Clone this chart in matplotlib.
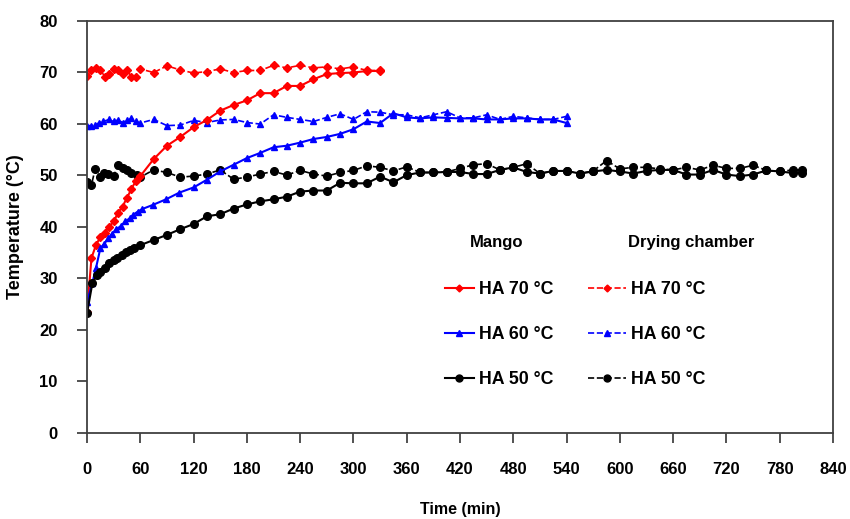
import matplotlib
matplotlib.use("Agg")
import matplotlib.pyplot as plt
from matplotlib.lines import Line2D

plt.rcParams['font.family'] = ['Liberation Sans', 'DejaVu Sans']
plt.rcParams['font.weight'] = 'bold'

# Mango HA 70 (solid) and drying chamber HA 70 (dashed)
t_m70 = [0, 5, 10, 15, 20, 25, 30, 35, 40, 45, 50, 55, 60, 75, 90, 105, 120, 135, 150,
         165, 180, 195, 210, 225, 240, 255, 270, 285, 300, 315, 330]
m70 = [23.5, 33.9, 36.4, 38.0, 38.8, 40.0, 41.0, 42.7, 43.9, 45.6, 47.3, 48.9, 49.8,
       53.1, 55.7, 57.4, 59.3, 60.7, 62.5, 63.6, 64.5, 65.9, 65.9, 67.3, 67.3, 68.6,
       69.6, 69.8, 69.9, 70.2, 70.2]
t_c70 = [0, 5, 10, 15, 20, 25, 30, 35, 40, 45, 50, 55, 60, 75, 90, 105, 120, 135, 150,
         165, 180, 195, 210, 225, 240, 255, 270, 285, 300, 315, 330]
c70 = [69.3, 70.4, 70.7, 70.4, 69.1, 69.6, 70.6, 70.3, 69.6, 70.3, 69.1, 69.1, 70.6,
       69.9, 71.2, 70.4, 69.8, 70.1, 70.6, 69.9, 70.3, 70.3, 71.3, 70.8, 71.3, 70.8,
       71.0, 70.6, 71.0, 70.3, 70.3]

# HA 60
t_m60 = [0, 6, 10, 15, 19, 24, 28, 33, 38, 43, 48, 52, 57, 62, 74, 89, 104, 120, 135,
         150, 165, 180, 195, 210, 225, 240, 255, 270, 285, 300, 315, 330, 345, 360, 375,
         390, 405, 420, 435, 450, 465, 480, 495, 510, 525, 540]
m60 = [25.4, 29.1, 31.9, 35.8, 36.6, 37.7, 38.6, 39.5, 40.1, 41.0, 41.6, 42.3, 42.9,
       43.4, 44.2, 45.3, 46.6, 47.6, 49.1, 50.7, 52.0, 53.3, 54.3, 55.4, 55.7, 56.3,
       57.0, 57.4, 58.0, 58.9, 60.4, 60.1, 62.0, 61.2, 61.0, 61.2, 61.1, 61.0, 61.0,
       60.8, 60.8, 61.0, 61.0, 60.8, 60.8, 60.1]
t_c60 = [0, 5, 9, 13, 18, 25, 30, 35, 40, 45, 50, 55, 60, 75, 90, 105, 120, 135, 150,
         165, 180, 195, 210, 225, 240, 255, 270, 285, 300, 315, 330, 345, 360, 375, 390,
         405, 420, 435, 450, 465, 480, 495, 510, 525, 540]
c60 = [59.6, 59.6, 59.7, 60.1, 60.4, 60.8, 60.4, 60.7, 60.2, 60.6, 61.0, 60.4, 60.1,
       60.8, 59.6, 59.7, 60.6, 60.2, 60.7, 60.8, 60.2, 59.9, 61.7, 61.2, 60.8, 60.4,
       61.2, 61.9, 60.8, 62.3, 62.2, 61.7, 61.7, 61.1, 61.7, 62.3, 61.1, 61.1, 61.7,
       60.8, 61.4, 61.1, 60.8, 60.8, 61.4]

# HA 50
t_m50 = [0, 6, 11, 15, 20, 25, 30, 34, 39, 44, 48, 53, 60, 75, 90, 105, 120, 135, 150,
         165, 180, 195, 210, 225, 240, 255, 270, 285, 300, 315, 330, 345, 360, 375, 390,
         405, 420, 435, 450, 465, 480, 495, 510, 525, 540, 555, 570, 585, 600, 615, 630,
         645, 660, 675, 690, 705, 720, 735, 750, 765, 780, 795, 805]
m50 = [23.2, 29.0, 30.6, 31.1, 31.9, 32.9, 33.5, 33.9, 34.5, 35.0, 35.5, 35.8, 36.4,
       37.4, 38.4, 39.5, 40.5, 42.0, 42.4, 43.5, 44.3, 44.9, 45.3, 45.8, 46.8, 47.0,
       47.0, 48.5, 48.4, 48.4, 49.7, 48.6, 50.0, 50.5, 50.5, 50.6, 50.6, 50.2, 50.2,
       51.0, 51.5, 50.6, 50.3, 50.8, 50.8, 50.3, 50.7, 51.0, 50.7, 50.3, 50.8, 51.0,
       51.0, 50.1, 50.1, 51.0, 50.1, 49.8, 50.1, 50.9, 50.7, 50.4, 50.4]
t_c50 = [0, 5, 9, 15, 19, 24, 30, 35, 40, 45, 50, 56, 60, 75, 90, 105, 120, 135, 150,
         165, 180, 195, 210, 225, 240, 255, 270, 285, 300, 315, 330, 345, 360, 375, 390,
         405, 420, 435, 450, 465, 480, 495, 510, 525, 540, 555, 570, 585, 600, 615, 630,
         645, 660, 675, 690, 705, 720, 735, 750, 765, 780, 795, 805]
c50 = [48.7, 48.1, 51.1, 49.7, 50.4, 50.3, 49.8, 52.0, 51.3, 51.0, 50.4, 50.0, 49.6,
       51.0, 50.5, 49.6, 49.8, 50.2, 51.0, 49.2, 49.6, 50.2, 50.7, 50.0, 50.9, 50.2,
       49.8, 50.5, 50.9, 51.8, 51.5, 50.8, 51.6, 50.5, 50.5, 50.6, 51.3, 52.0, 52.2,
       51.0, 51.5, 52.2, 50.3, 50.8, 50.8, 50.3, 50.8, 52.8, 51.2, 51.5, 51.5, 51.2,
       51.0, 51.5, 51.0, 51.9, 51.3, 51.3, 51.9, 50.9, 50.7, 51.0, 51.0]

x_ticks = list(range(0, 841, 60))
y_ticks = list(range(0, 81, 10))
labels = ["HA 70 °C", "HA 60 °C", "HA 50 °C"]
colors = ["#ff0000", "#0000ff", "#000000"]
markers = ["D", "^", "o"]
msizes = [4, 5, 5.5]


def main():
    fig = plt.figure(figsize=(8.5, 5.19), dpi=100)
    ax = fig.add_axes([0.1024, 0.1663, 0.8776, 0.7942])

    mango = [(t_m70, m70), (t_m60, m60), (t_m50, m50)]
    chamber = [(t_c70, c70), (t_c60, c60), (t_c50, c50)]
    for (t, v), c, mk, ms in zip(chamber, colors, markers, msizes):
        ax.plot(t, v, ls="--", color=c, marker=mk, ms=ms, lw=1.2)
    for (t, v), c, mk, ms in zip(mango, colors, markers, msizes):
        ax.plot(t, v, ls="-", color=c, marker=mk, ms=ms, lw=1.5)

    ax.set_xlim(0, 840)
    ax.set_ylim(0, 80)
    ax.set_xticks(x_ticks)
    ax.set_yticks(y_ticks)
    ax.tick_params(axis="both", direction="out", length=7, width=1.2,
                   labelsize=12, pad=14, colors="#333333", labelcolor="black")
    for s in ax.spines.values():
        s.set_color("#404040")
        s.set_linewidth(1.3)
    ax.set_xlabel("Time (min)", fontsize=11.5, fontweight="bold", labelpad=18)
    ax.set_ylabel("Temperature (°C)", fontsize=13, fontweight="bold", labelpad=11)

    h_m = [Line2D([], [], ls="-", color=c, marker=mk, ms=ms - 0.5, lw=1.5)
           for c, mk, ms in zip(colors, markers, msizes)]
    h_c = [Line2D([], [], ls="--", color=c, marker=mk, ms=ms - 0.5, lw=1.2)
           for c, mk, ms in zip(colors, markers, msizes)]
    kw = dict(frameon=False, fontsize=12.8, loc="upper left", borderpad=0,
              borderaxespad=0, handletextpad=0.3, labelspacing=1.57)
    leg1 = ax.legend(h_m, labels, bbox_to_anchor=(0.48, 0.368),
                     handlelength=1.6, **kw)
    ax.add_artist(leg1)
    ax.legend(h_c, labels, bbox_to_anchor=(0.672, 0.368), handlelength=2.1, **kw)

    ax.text(431, 37.0, "Mango", fontsize=12, fontweight="bold", va="center")
    ax.text(609, 37.0, "Drying chamber", fontsize=12, fontweight="bold", va="center")

    fig.savefig("out.png", dpi=100)


if __name__ == "__main__":
    main()
